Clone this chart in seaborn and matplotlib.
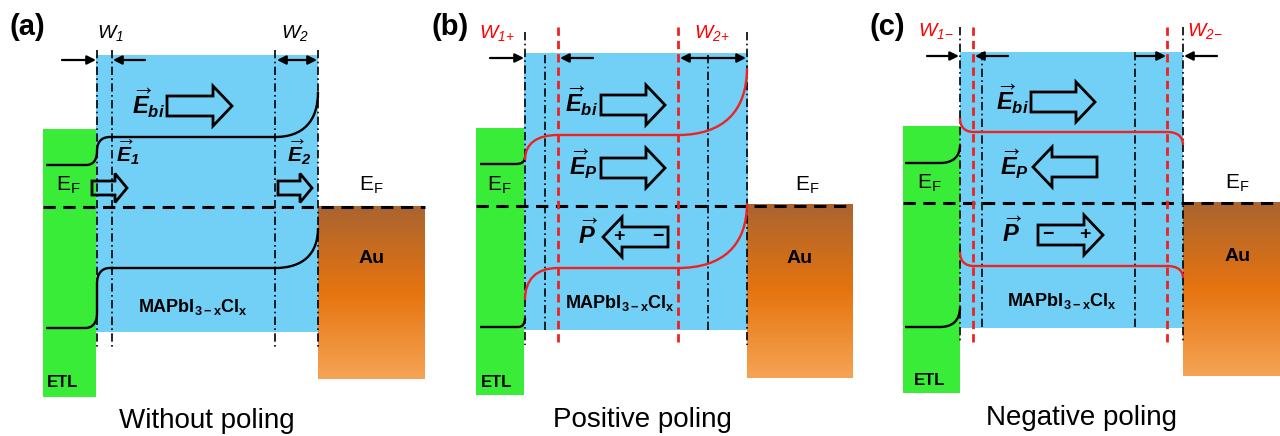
import numpy as np
import matplotlib
matplotlib.use('Agg')
import matplotlib.pyplot as plt
from matplotlib.patches import Rectangle, FancyArrow, PathPatch
from matplotlib.path import Path
from matplotlib.colors import LinearSegmentedColormap
import seaborn as sns

# ---- schematic geometry (pixel units of the 1280x436 picture) ----
panel_labels = ['(a)', '(b)', '(c)']
panel_label_xy = [(27, 27), (450, 27), (887, 27)]
titles = ['Without poling', 'Positive poling', 'Negative poling']
title_x = [207, 642, 1081]
title_y = [421, 420, 418]

# boxes as (x0, y0, x1, y1)
etl_boxes = [(43, 129, 96, 397), (476, 128, 524, 395), (903, 126, 960, 393)]
mapbi_boxes = [(96, 55, 318, 332), (524, 53, 748, 330), (960, 52, 1183, 328)]
au_boxes = [(318, 206, 425, 379), (747, 204, 853, 378), (1183, 202, 1280, 376)]
ef_levels = [207, 206, 203]
ef_spans = [(43, 425), (476, 853), (903, 1280)]

# dash-dot guides: (x, y_top, y_bottom)
guides = [(97, 50, 347), (112, 50, 347), (275, 50, 347), (318, 50, 347),
          (525, 32, 345), (545, 55, 333), (708, 55, 333), (747, 32, 345),
          (960, 27, 342), (982, 52, 328), (1135, 52, 328), (1183, 27, 342)]
red_guides = [(558, 27, 345), (678, 27, 345), (973, 27, 342), (1167, 27, 342)]

# top width arrows: (x_from, x_to, y, style)
width_arrows = [(62, 96, 60, '-|>'), (145, 113, 60, '-|>'), (277, 317, 60, '<|-|>'),
                (490, 524, 58, '-|>'), (593, 560, 58, '-|>'), (680, 746, 58, '<|-|>'),
                (927, 959, 56, '-|>'), (1008, 975, 56, '-|>'),
                (1135, 1166, 56, '-|>'), (1217, 1184, 56, '-|>')]

w_labels = [r'$\mathsf{W_1}$', r'$\mathsf{W_2}$', r'$\mathsf{W_{1{+}}}$', r'$\mathsf{W_{2{+}}}$',
            r'$\mathsf{W_{1{-}}}$', r'$\mathsf{W_{2{-}}}$']
w_label_xy = [(111, 33), (295, 33), (497, 33), (712, 33), (936, 31), (1205, 31)]
w_label_colors = ['black', 'black', 'red', 'red', 'red', 'red']

# band edges: nodes (x, y, kind); kind = segment shape from previous node
bands_black = [
    [(46, 165, 'M'), (86, 165, 'L'), (97, 151, 'hv'), (110, 137, 'vh'), (275, 137, 'L'), (318, 92, 'hv')],
    [(46, 328, 'M'), (85, 328, 'L'), (97, 313, 'hv'), (97, 284, 'L'), (110, 268, 'vh'),
     (275, 268, 'L'), (318, 228, 'hv')],
    [(480, 164, 'M'), (516, 164, 'L'), (525, 157, 'hv')],
    [(480, 327, 'M'), (518, 327, 'L'), (525, 318, 'hv')],
    [(905, 163, 'M'), (940, 163, 'L'), (960, 145, 'hv')],
    [(905, 327, 'M'), (940, 327, 'L'), (960, 307, 'hv')],
]
bands_red = [
    [(525, 160, 'M'), (558, 135, 'vh'), (678, 135, 'L'), (747, 68, 'hv')],
    [(525, 300, 'M'), (558, 268, 'vh'), (678, 268, 'L'), (747, 203, 'hv')],
    [(960, 118, 'M'), (974, 132, 'vh'), (1167, 132, 'L'), (1183, 145, 'hv')],
    [(960, 252, 'M'), (974, 266, 'vh'), (1167, 266, 'L'), (1183, 278, 'hv')],
]

# hollow field arrows: (x_tail, x_tip, y, size)
field_arrows = [(167, 232, 106, 'big'), (92, 127, 188, 'small'), (278, 312, 188, 'small'),
                (601, 665, 105, 'big'), (601, 665, 168, 'big'), (668, 603, 237, 'big'),
                (1031, 1095, 102, 'big'), (1097, 1033, 167, 'big'), (1038, 1103, 235, 'big')]
field_labels = [r'$\overrightarrow{E}_{bi}$', r'$\overrightarrow{E}_{\mathcal{1}}$',
                r'$\overrightarrow{E}_{\mathcal{2}}$',
                r'$\overrightarrow{E}_{bi}$', r'$\overrightarrow{E}_{P}$', r'$\overrightarrow{P}$',
                r'$\overrightarrow{E}_{bi}$', r'$\overrightarrow{E}_{P}$', r'$\overrightarrow{P}$']
# anchor: (x, y, horizontal alignment)
field_label_xy = [(165, 103, 'right'), (116, 153, 'left'), (287, 153, 'left'),
                  (598, 101, 'right'), (598, 164, 'right'), (597, 234, 'right'),
                  (1029, 99, 'right'), (1029, 164, 'right'), (1021, 232, 'right')]
field_label_size = [17, 15, 15, 17, 17, 17, 17, 17, 17]
charges = ['+', '−', '−', '+']
charge_xy = [(619, 236), (658, 236), (1048, 234), (1085, 234)]

ef_label_xy = [(68, 185), (371, 185), (499, 185), (807, 185), (929, 183), (1237, 183)]
mapbi_xy = [(138, 312), (565, 308), (1007, 306)]
au_label_xy = [(372, 258), (800, 258), (1238, 256)]
etl_label_xy = [(63, 382), (497, 382), (930, 380)]

blue = '#72CFF5'
green = '#38EC38'
red = '#EE2222'
au_colors = ['#AA6430', '#E6740F', '#F5A455']


def band_path(nodes, k=0.65):
    verts, codes = [], []
    for x, y, kind in nodes:
        if kind == 'M':
            verts.append((x, y)); codes.append(Path.MOVETO)
        elif kind == 'L':
            verts.append((x, y)); codes.append(Path.LINETO)
        else:
            x0, y0 = verts[-1]
            dx, dy = x - x0, y - y0
            if kind == 'hv':
                c1, c2 = (x0 + k * dx, y0), (x, y - k * dy)
            else:
                c1, c2 = (x0, y0 + k * dy), (x - k * dx, y)
            verts += [c1, c2, (x, y)]
            codes += [Path.CURVE4] * 3
    return Path(verts, codes)


sns.set_theme(style='white')
plt.rcParams['font.family'] = ['Liberation Sans', 'DejaVu Sans']
plt.rcParams['text.color'] = 'black'
plt.rcParams['mathtext.fontset'] = 'custom'
plt.rcParams['mathtext.it'] = 'Liberation Sans:italic:bold'
plt.rcParams['mathtext.cal'] = 'Liberation Sans:italic:bold'
plt.rcParams['mathtext.rm'] = 'Liberation Sans'
plt.rcParams['mathtext.bf'] = 'Liberation Sans:bold'
plt.rcParams['mathtext.sf'] = 'Liberation Sans:italic'

fig = plt.figure(figsize=(12.8, 4.36), dpi=100)
ax = fig.add_axes([0, 0, 1, 1])

# layers
for x0, y0, x1, y1 in mapbi_boxes:
    ax.add_patch(Rectangle((x0, y0), x1 - x0, y1 - y0, color=blue, lw=0, zorder=1))
for x0, y0, x1, y1 in etl_boxes:
    ax.add_patch(Rectangle((x0, y0), x1 - x0, y1 - y0, color=green, lw=0, zorder=1))
au_cmap = LinearSegmentedColormap.from_list('au', au_colors)
grad = np.linspace(0, 1, 256).reshape(-1, 1)
for x0, y0, x1, y1 in au_boxes:
    ax.imshow(grad, cmap=au_cmap, extent=(x0, x1, y1, y0), aspect='auto', zorder=1)

# Fermi level
for (x0, x1), y in zip(ef_spans, ef_levels):
    sns.lineplot(x=[x0, x1], y=[y, y], ax=ax, color='black', lw=2.2,
                 linestyle=(0, (4, 2.5)), estimator=None, sort=False, zorder=4)

# guides
for x, ya, yb in guides:
    ax.vlines(x, ya, yb, color='black', lw=1.2, linestyles=[(0, (5, 2, 1, 2))], zorder=5)
for x, ya, yb in red_guides:
    ax.vlines(x, ya, yb, color=red, lw=2.0, linestyles=[(0, (3, 1.8))], zorder=5)

# bands
for nodes in bands_black:
    ax.add_patch(PathPatch(band_path(nodes), fill=False, ec='black', lw=1.7, zorder=6))
for nodes in bands_red:
    ax.add_patch(PathPatch(band_path(nodes), fill=False, ec=red, lw=1.7, zorder=6))

# width arrows
for xa, xb, y, st in width_arrows:
    ax.annotate('', xy=(xb, y), xytext=(xa, y),
                arrowprops=dict(arrowstyle=st, color='black', lw=1.6, mutation_scale=13,
                                shrinkA=0, shrinkB=0), zorder=7)

for txt, (x, y), c in zip(w_labels, w_label_xy, w_label_colors):
    ax.text(x, y, txt, color=c, fontsize=14, ha='center', va='center', zorder=8)

# hollow field arrows
for xa, xb, y, size in field_arrows:
    if size == 'big':
        w, hw, hl = 20, 40, 19
    else:
        w, hw, hl = 14, 29, 12
    ax.add_patch(FancyArrow(xa, y, xb - xa, 0, width=w, head_width=hw, head_length=hl,
                            length_includes_head=True, fill=False, ec='black', lw=2.0,
                            joinstyle='miter', zorder=7))
for txt, (x, y, ha), fs in zip(field_labels, field_label_xy, field_label_size):
    ax.text(x, y, txt, fontsize=fs, ha=ha, va='center', zorder=8)
for txt, (x, y) in zip(charges, charge_xy):
    ax.text(x, y, txt, fontsize=14, fontweight='bold', ha='center', va='center', zorder=8)

for x, y in ef_label_xy:
    ax.text(x, y, r'$\mathrm{E_F}$', fontsize=15, ha='center', va='center', zorder=8)
for x, y in mapbi_xy:
    ax.text(x, y, r'MAPbI$_{\mathbf{3-x}}$Cl$_{\mathbf{x}}$', fontsize=13, fontweight='bold',
            ha='left', va='baseline', zorder=8)
for x, y in au_label_xy:
    ax.text(x, y, 'Au', fontsize=14, fontweight='bold', ha='center', va='center', zorder=8)
for x, y in etl_label_xy:
    ax.text(x, y, 'ETL', fontsize=12, fontweight='bold', ha='center', va='center', zorder=8)

for lab, (x, y) in zip(panel_labels, panel_label_xy):
    ax.text(x, y, lab, fontsize=21, fontweight='bold', ha='center', va='center')
for t, x, y in zip(titles, title_x, title_y):
    ax.text(x, y, t, fontsize=20, ha='center', va='center')

ax.set_xlim(0, 1280)
ax.set_ylim(436, 0)
ax.axis('off')
fig.savefig('out.png', dpi=100)
